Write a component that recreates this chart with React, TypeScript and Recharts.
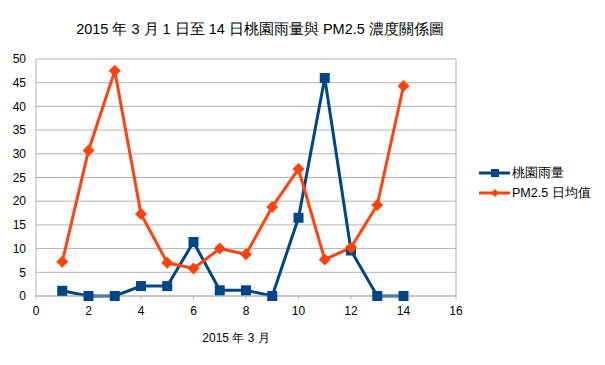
import React from 'react';
import { LineChart, Line, XAxis, YAxis, CartesianGrid, ReferenceLine } from 'recharts';

const days = [1, 2, 3, 4, 5, 6, 7, 8, 9, 10, 11, 12, 13, 14];
const rainfall = [1.1, 0, 0, 2.1, 2.1, 11.4, 1.2, 1.2, 0, 16.5, 46, 9.6, 0, 0];
const pm25 = [7.2, 30.7, 47.5, 17.3, 7.0, 5.8, 10.0, 8.8, 18.8, 26.8, 7.7, 10.2, 19.2, 44.3];
const xTicks = [0, 2, 4, 6, 8, 10, 12, 14, 16];
const yTicks = [0, 5, 10, 15, 20, 25, 30, 35, 40, 45, 50];
const seriesNames = ['桃園雨量', 'PM2.5 日均值'];

const data = days.map((d, i) => ({ day: d, rain: rainfall[i], pm: pm25[i] }));

const FONT = '"Liberation Sans", Arial, sans-serif';
const BLUE = '#004586';
const ORANGE = '#ff420e';
const GRID = '#b3b3b3';

const SquareDot = (props: any) => {
  const { cx, cy } = props;
  if (cx == null || cy == null) return null;
  return <rect x={cx - 5} y={cy - 5} width={10} height={10} fill={BLUE} />;
};

const DiamondDot = (props: any) => {
  const { cx, cy } = props;
  if (cx == null || cy == null) return null;
  return <polygon points={`${cx},${cy - 6} ${cx + 6},${cy} ${cx},${cy + 6} ${cx - 6},${cy}`} fill={ORANGE} />;
};

const LegendBox = () => (
  <div style={{ position: 'absolute', left: 479, top: 163, width: 125, fontFamily: FONT, fontSize: 12.5, color: '#000' }}>
    {[
      { name: seriesNames[0], color: BLUE, shape: 'sq' },
      { name: seriesNames[1], color: ORANGE, shape: 'di' },
    ].map((it) => (
      <div key={it.name} style={{ display: 'flex', alignItems: 'center', height: 20 }}>
        <svg width={32} height={12} style={{ marginRight: 1 }}>
          <line x1={0} y1={6} x2={31} y2={6} stroke={it.color} strokeWidth={3} />
          {it.shape === 'sq' ? (
            <rect x={12} y={2} width={8} height={8} fill={it.color} />
          ) : (
            <polygon points="16,2 20,6 16,10 12,6" fill={it.color} />
          )}
        </svg>
        <span>{it.name}</span>
      </div>
    ))}
  </div>
);

export default function App() {
  return (
    <div style={{ position: 'absolute', left: 0, top: 0, width: 605, height: 365, background: '#fff' }}>
      <div
        style={{
          position: 'absolute',
          left: 0,
          top: 20,
          width: 520,
          textAlign: 'center',
          fontFamily: FONT,
          fontSize: 14.5,
          color: '#000',
        }}
      >
        2015 年 3 月 1 日至 14 日桃園雨量與 PM2.5 濃度關係圖
      </div>
      <div
        style={{
          position: 'absolute',
          left: 36,
          top: 330,
          width: 400,
          textAlign: 'center',
          fontFamily: FONT,
          fontSize: 12,
          color: '#000',
        }}
      >
        2015 年 3 月
      </div>
      <LineChart
        width={605}
        height={365}
        data={data}
        margin={{ top: 59, right: 149, bottom: 39, left: 0 }}
        style={{ position: 'absolute', left: 0, top: 0 }}
      >
        <CartesianGrid horizontal={true} vertical={false} stroke={GRID} strokeWidth={1} />
        <XAxis
          dataKey="day"
          type="number"
          domain={[0, 16]}
          ticks={xTicks}
          interval={0}
          height={30}
          axisLine={{ stroke: GRID }}
          tickLine={{ stroke: GRID }}
          tickSize={3}
          tickMargin={7}
          tick={{ fill: '#000', fontSize: 12, fontFamily: FONT }}
        />
        <YAxis
          type="number"
          domain={[0, 50]}
          ticks={yTicks}
          interval={0}
          width={36}
          axisLine={{ stroke: GRID }}
          tickLine={false}
          tickSize={8}
          tickMargin={2}
          tick={{ fill: '#000', fontSize: 12, fontFamily: FONT }}
        />
        <ReferenceLine x={16} stroke={GRID} strokeWidth={1} />
        <Line
          type="linear"
          dataKey="rain"
          name={seriesNames[0]}
          stroke={BLUE}
          strokeWidth={3}
          dot={<SquareDot />}
          activeDot={false}
          isAnimationActive={false}
        />
        <Line
          type="linear"
          dataKey="pm"
          name={seriesNames[1]}
          stroke={ORANGE}
          strokeWidth={3}
          dot={<DiamondDot />}
          activeDot={false}
          isAnimationActive={false}
        />
      </LineChart>
      <LegendBox />
    </div>
  );
}
